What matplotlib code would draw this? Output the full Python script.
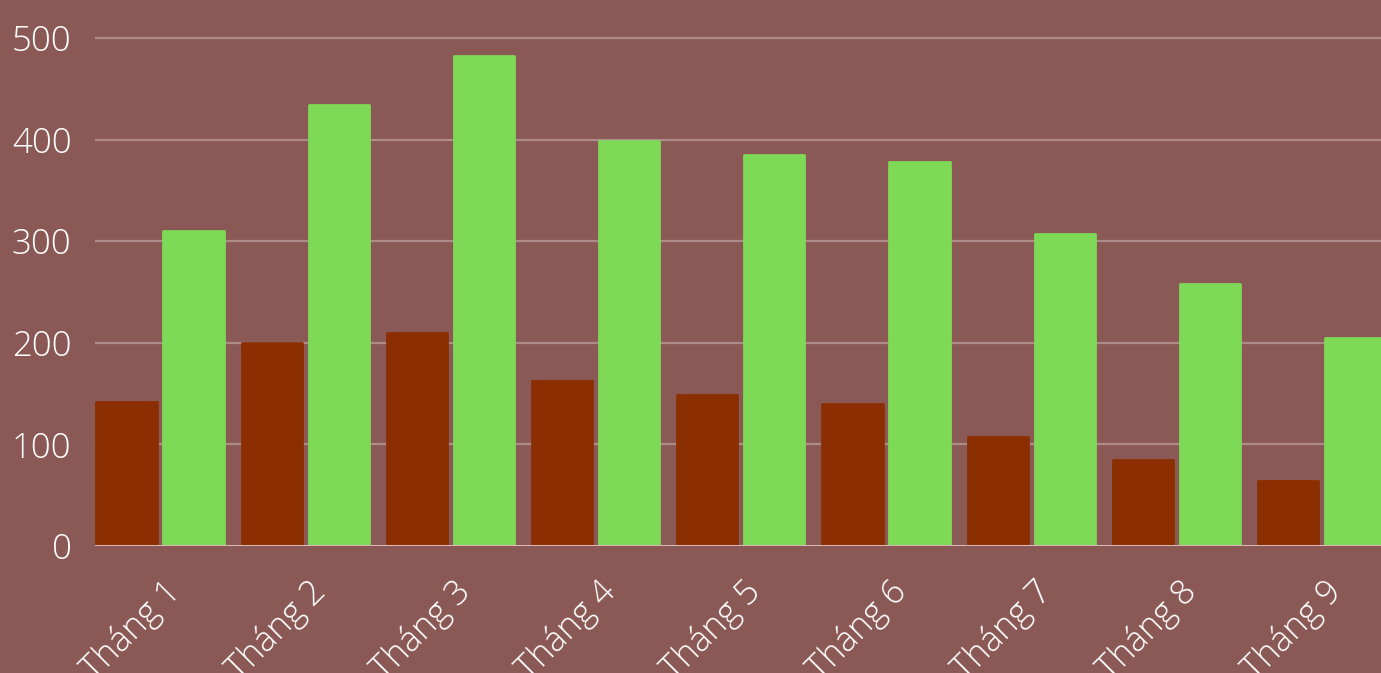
#!/usr/bin/env python3

import matplotlib
matplotlib.use('Agg')
import matplotlib.pyplot as plt
import matplotlib.transforms as mtransforms
import numpy as np

months = ['Tháng 1', 'Tháng 2', 'Tháng 3', 'Tháng 4', 'Tháng 5',
          'Tháng 6', 'Tháng 7', 'Tháng 8', 'Tháng 9']
series_a = [142, 200, 210, 162, 149, 140, 107, 85, 64]       # dark red bars
series_b = [310, 434, 482, 399, 385, 378, 307, 258, 205]     # green bars
yticks = [0, 100, 200, 300, 400, 500]

BG = '#8b5955'
RED = '#8b2e00'
GREEN = '#7ed957'
GRID = '#ae8b88'
BASE = '#d9b8b6'

W, H, DPI = 1381, 673, 100
fig = plt.figure(figsize=(W / DPI, H / DPI), dpi=DPI, facecolor=BG)

# axes placed in pixel terms: first bar starts at x=95, zero line at y=546
px_per_group = 145.2
x0 = -0.448
x1 = 8.6
ax_left = 95
ax_w = (x1 - x0) * px_per_group
ymax = 520
px_per_unit = (546 - 38) / 500
ax_bottom = H - 546
ax_h = ymax * px_per_unit
ax = fig.add_axes([ax_left / W, ax_bottom / H, ax_w / W, ax_h / H])
ax.set_facecolor(BG)

x = np.arange(len(months))
bw = 63 / px_per_group
gap = 4 / px_per_group
lw = 2.0  # rounded corners via edge join
shrink = (lw / 72 * DPI) / px_per_group
ax.bar(x - (bw + gap) / 2, series_a, width=bw - shrink, color=RED,
       edgecolor=RED, linewidth=lw, joinstyle='round', zorder=3)
ax.bar(x + (bw + gap) / 2, series_b, width=bw - shrink, color=GREEN,
       edgecolor=GREEN, linewidth=lw, joinstyle='round', zorder=3)

ax.set_xlim(x0, x1)
ax.set_ylim(0, ymax)

for y in yticks[1:]:
    ax.axhline(y, color=GRID, linewidth=1.6, zorder=1)
ax.axhline(0, color=BASE, linewidth=2.2, zorder=4)

for s in ax.spines.values():
    s.set_visible(False)

ax.set_yticks(yticks)
ax.set_yticklabels([str(v) for v in yticks])
ax.tick_params(axis='y', length=0, pad=17, labelsize=25, labelcolor='white')

ax.set_xticks(x)
ax.set_xticklabels(months, rotation=45, ha='right', va='center',
                   rotation_mode='anchor')
ax.tick_params(axis='x', length=0, pad=29, labelsize=25, labelcolor='white')
offset = mtransforms.ScaledTranslation(15 / DPI, 0, fig.dpi_scale_trans)
for lab in ax.get_xticklabels():
    lab.set_transform(lab.get_transform() + offset)

for lab in ax.get_xticklabels() + ax.get_yticklabels():
    lab.set_fontfamily('Open Sans')
    lab.set_fontweight('light')

fig.savefig('out.png', dpi=DPI, facecolor=BG)
